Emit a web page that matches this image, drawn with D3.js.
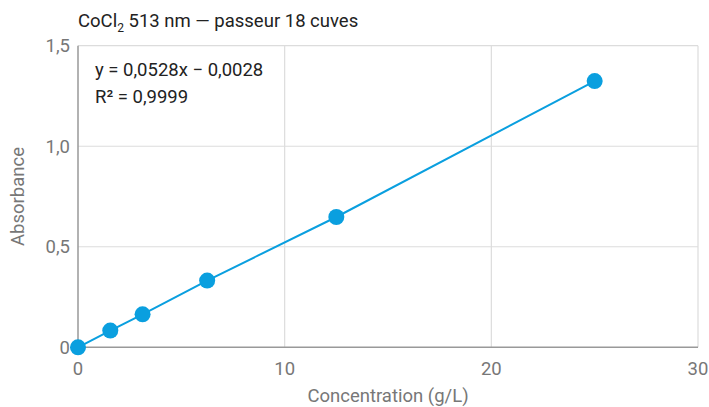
<!DOCTYPE html>
<html><head><meta charset="utf-8">
<script src="https://cdn.jsdelivr.net/npm/d3@7/dist/d3.min.js"></script>
<style>
body{margin:0;background:#fff;}
text{font-family:Roboto,"Noto Sans",sans-serif;}
</style></head>
<body><svg id="c" width="709" height="407"></svg>
<script>
const concentrations = [0, 1.5625, 3.125, 6.25, 12.5, 25];
const absorbances = [0, 0.083, 0.164, 0.332, 0.648, 1.324];
const xTicks = [0, 10, 20, 30];
const yTicks = [0, 0.5, 1.0, 1.5];
const yTickLabels = ["0", "0,5", "1,0", "1,5"];
const equationLines = ["y = 0,0528x − 0,0028", "R² = 0,9999"];

const svg = d3.select("#c");
const m = {l:78, r:11, t:45.7, b:59.7};
const W = 709, H = 407;
const FS = 18.5;
const x = d3.scaleLinear().domain([0,30]).range([m.l, W-m.r]);
const y = d3.scaleLinear().domain([0,1.5]).range([H-m.b, m.t]);

const grid = "#dcdcdc";
svg.append("g").selectAll("line").data(yTicks.filter(d=>d>0)).join("line")
  .attr("x1", x(0)).attr("x2", x(30)).attr("y1", d=>y(d)).attr("y2", d=>y(d))
  .attr("stroke", grid).attr("stroke-width", 1.2);
svg.append("g").selectAll("line").data(xTicks.filter(d=>d>0)).join("line")
  .attr("x1", d=>x(d)).attr("x2", d=>x(d)).attr("y1", y(0)).attr("y2", y(1.5))
  .attr("stroke", grid).attr("stroke-width", 1.2);

svg.append("line").attr("x1", x(0)).attr("x2", x(0)).attr("y1", y(1.5)).attr("y2", y(0))
  .attr("stroke", "#999").attr("stroke-width", 1.5);
svg.append("line").attr("x1", x(0)).attr("x2", x(30)).attr("y1", y(0)).attr("y2", y(0))
  .attr("stroke", "#999").attr("stroke-width", 1.5);

svg.append("g").selectAll("text").data(yTicks).join("text")
  .attr("x", x(0)-8).attr("y", d=>y(d)).attr("dy", "0.35em")
  .attr("text-anchor", "end").attr("font-size", FS).attr("fill", "#777")
  .text((d,i)=>yTickLabels[i]);
svg.append("g").selectAll("text").data(xTicks).join("text")
  .attr("x", d=>x(d)).attr("y", y(0)+21).attr("dy", "0.35em")
  .attr("text-anchor", "middle").attr("font-size", FS).attr("fill", "#777")
  .text(d=>d);

svg.append("text").attr("x", (x(0)+x(30))/2).attr("y", 402)
  .attr("text-anchor", "middle").attr("font-size", FS).attr("fill", "#777")
  .text("Concentration (g/L)");
svg.append("text").attr("transform", `translate(24,${(y(0)+y(1.5))/2}) rotate(-90)`)
  .attr("text-anchor", "middle").attr("font-size", FS).attr("fill", "#777")
  .text("Absorbance");

const t = svg.append("text").attr("x", 78).attr("y", 27).attr("font-size", FS).attr("fill", "#222");
t.append("tspan").text("CoCl");
t.append("tspan").attr("font-size", 12).attr("dy", 5).text("2");
t.append("tspan").attr("dy", -5).text(" 513 nm — passeur 18 cuves");

svg.append("g").selectAll("text").data(equationLines).join("text")
  .attr("x", 95).attr("y", (d,i)=>76+i*27).attr("font-size", FS).attr("fill", "#222")
  .text(d=>d);

const pts = concentrations.map((c,i)=>[c, absorbances[i]]);
svg.append("path").datum(pts)
  .attr("d", d3.line().x(d=>x(d[0])).y(d=>y(d[1])))
  .attr("fill", "none").attr("stroke", "#0a9fdf").attr("stroke-width", 2);
svg.append("g").selectAll("circle").data(pts).join("circle")
  .attr("cx", d=>x(d[0])).attr("cy", d=>y(d[1])).attr("r", 8).attr("fill", "#0a9fdf");
</script></body></html>
